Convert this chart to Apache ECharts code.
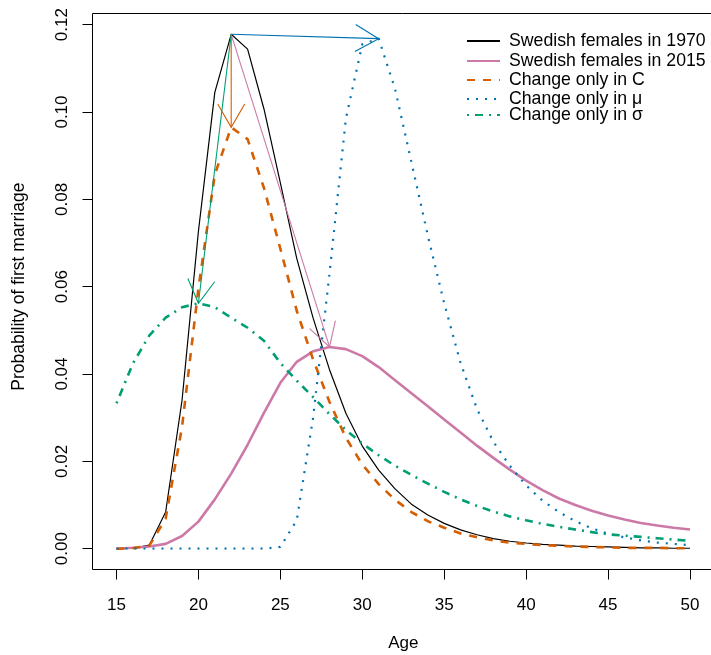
<!DOCTYPE html>
<html>
<head>
<meta charset="utf-8">
<script src="https://cdn.jsdelivr.net/npm/echarts@6/dist/echarts.min.js"></script>
<style>
html,body{margin:0;padding:0;background:#ffffff;}
#chart{width:711px;height:655px;}
</style>
</head>
<body>
<div id="chart"></div>
<script>
// ---- data ----
const ages = [15,16,17,18,19,20,21,22,23,24,25,26,27,28,29,30,31,32,33,34,35,36,37,38,39,40,41,42,43,44,45,46,47,48,49,50];

const females1970 = [0,0.0001,0.0008,0.0084,0.0340,0.0727,0.1045,0.1178,0.1144,0.1007,0.0838,0.0665,0.0528,0.0410,0.0310,0.0235,0.0180,0.0137,0.0102,0.0077,0.0058,0.0043,0.0032,0.0023,0.0017,0.0013,0.0010,0.0008,0.0006,0.0005,0.0004,0.0003,0.0002,0.0002,0.0001,0.0001];

const females2015 = [0,0.0002,0.0005,0.0011,0.0029,0.0062,0.0113,0.0172,0.0238,0.0311,0.0380,0.0428,0.0452,0.0462,0.0457,0.0441,0.0416,0.0386,0.0356,0.0326,0.0296,0.0266,0.0236,0.0208,0.0181,0.0156,0.0134,0.0115,0.0100,0.0087,0.0076,0.0067,0.0059,0.0053,0.0048,0.0044];

const changeC = [0,0.0001,0.0007,0.0069,0.0279,0.0596,0.0857,0.0965,0.0938,0.0826,0.0687,0.0545,0.0433,0.0336,0.0254,0.0193,0.0148,0.0112,0.0084,0.0063,0.0048,0.0035,0.0026,0.0019,0.0014,0.0011,0.0008,0.0007,0.0005,0.0004,0.0003,0.0002,0.0002,0.0002,0.0001,0.0001];

const changeMu = [0,0,0,0,0,0,0,0,0,0,0.0004,0.0065,0.0300,0.0630,0.0985,0.1155,0.1168,0.1053,0.0885,0.0717,0.0562,0.0425,0.0320,0.0245,0.0190,0.0145,0.0110,0.0084,0.0063,0.0047,0.0034,0.0026,0.0019,0.0014,0.0011,0.0008];

const changeSigma = [0.0333,0.0424,0.0488,0.0529,0.0553,0.0562,0.0553,0.0529,0.0506,0.0476,0.0425,0.0385,0.0347,0.0308,0.0272,0.0241,0.0214,0.0190,0.0169,0.0149,0.0130,0.0113,0.0098,0.0085,0.0074,0.0065,0.0057,0.0050,0.0044,0.0038,0.0033,0.0030,0.0027,0.0024,0.0021,0.0018];

const seriesNames = ['Swedish females in 1970','Swedish females in 2015','Change only in C','Change only in \u03bc','Change only in \u03c3'];

// arrows: from the 1970 peak to each new peak
const arrowFromAge = 22;
const arrowFromValue = 0.1178;
const arrowToAge = [31, 22, 28, 20];
const arrowToValue = [0.1168, 0.0965, 0.0462, 0.0562];

const xTickValues = [15,20,25,30,35,40,45,50];
const yTickValues = [0,0.02,0.04,0.06,0.08,0.10,0.12];

// ---- styling ----
const FONT = '"Liberation Sans", Arial, Helvetica, sans-serif';
const COLORS = ['#000000','#CC79A7','#D55E00','#0072B2','#009E73'];
const arrowColors = ['#0072B2','#D55E00','#CC79A7','#009E73'];
const lineStyles = [
  {width:1.2, type:'solid'},
  {width:2.6, type:'solid'},
  {width:2.6, type:[8,8]},
  {width:2.2, type:[2,7]},
  {width:2.6, type:[2,6,8,6]}
];
const seriesValues = [females1970, females2015, changeC, changeMu, changeSigma];

function pairs(vals){ return ages.map((a,i)=>[a, vals[i]]); }

const lineSeries = seriesValues.map((vals,i)=>({
  type:'line',
  name: seriesNames[i],
  data: pairs(vals),
  symbol:'none',
  showSymbol:false,
  smooth:false,
  silent:true,
  color: COLORS[i],
  lineStyle: Object.assign({color: COLORS[i], cap:'butt', join:'round'}, lineStyles[i]),
  z: 2 + i
}));

const arrowData = arrowToAge.map((a,i)=>[arrowFromAge, arrowFromValue, a, arrowToValue[i]]);

const arrowSeries = {
  type:'custom',
  name:'arrows',
  silent:true,
  z: 10,
  encode:{x:[0,2], y:[1,3]},
  data: arrowData,
  renderItem: function(params, api){
    const p0 = api.coord([api.value(0), api.value(1)]);
    const p1 = api.coord([api.value(2), api.value(3)]);
    const ang = Math.atan2(p1[1]-p0[1], p1[0]-p0[0]);
    const L = 27, A = Math.PI/6;
    const h1 = [p1[0]-L*Math.cos(ang-A), p1[1]-L*Math.sin(ang-A)];
    const h2 = [p1[0]-L*Math.cos(ang+A), p1[1]-L*Math.sin(ang+A)];
    const color = arrowColors[params.dataIndex];
    return {type:'group', children:[
      {type:'line', shape:{x1:p0[0],y1:p0[1],x2:p1[0],y2:p1[1]}, style:{stroke:color, lineWidth:1.1}},
      {type:'polyline', shape:{points:[h1,p1,h2]}, style:{stroke:color, fill:null, lineWidth:1.1}}
    ]};
  }
};

const legendTops = [41, 61, 80, 99, 115];
const legends = seriesNames.map((n,i)=>({
  data:[n],
  left: 466,
  top: legendTops[i] - 9,
  padding: 0,
  orient:'vertical',
  itemWidth: 33,
  itemHeight: 18,
  selectedMode:false,
  itemStyle:{opacity:0, borderWidth:0},
  textStyle:{fontFamily:FONT, fontSize:17.7, color:'#000', padding:[0,0,0,4]}
}));

const option = {
  animation:false,
  backgroundColor:'#ffffff',
  grid:{left:116.5, right:21, top:24.7, bottom:106.3, containLabel:false, outerBoundsMode:'none'},
  xAxis:{
    type:'value', min:15, max:50, interval:5, offset:20.8,
    axisLine:{show:true, onZero:false, lineStyle:{color:'#000', width:1}},
    axisTick:{show:true, length:10, lineStyle:{color:'#000', width:1}},
    axisLabel:{margin:27, fontFamily:FONT, fontSize:17, color:'#000',
      formatter: v => xTickValues.includes(v) ? String(v) : ''},
    splitLine:{show:false},
    name:'Age', nameLocation:'middle', nameGap:65,
    nameTextStyle:{fontFamily:FONT, fontSize:17, color:'#000'}
  },
  yAxis:{
    type:'value', min:0, max:0.12, interval:0.02, offset:24, position:'left',
    axisLine:{show:true, onZero:false, lineStyle:{color:'#000', width:1}},
    axisTick:{show:true, length:10, lineStyle:{color:'#000', width:1}},
    axisLabel:{rotate:90, margin:22, align:'center', verticalAlign:'bottom',
      fontFamily:FONT, fontSize:17, color:'#000',
      formatter: v => { const t = yTickValues.find(y => Math.abs(y - v) < 1e-9); return t === undefined ? '' : t.toFixed(2); }},
    splitLine:{show:false},
    name:'Probability of first marriage', nameLocation:'middle', nameGap:64, nameRotate:90,
    nameTextStyle:{fontFamily:FONT, fontSize:17.5, color:'#000'}
  },
  legend: legends,
  graphic:[{
    type:'rect', silent:true, z:100,
    shape:{x:92.5, y:13.5, width:640, height:556},
    style:{fill:null, stroke:'#000', lineWidth:1}
  }],
  series: lineSeries.concat([arrowSeries])
};

const chart = echarts.init(document.getElementById('chart'), null, {renderer:'canvas'});
chart.setOption(option);
</script>
</body>
</html>
